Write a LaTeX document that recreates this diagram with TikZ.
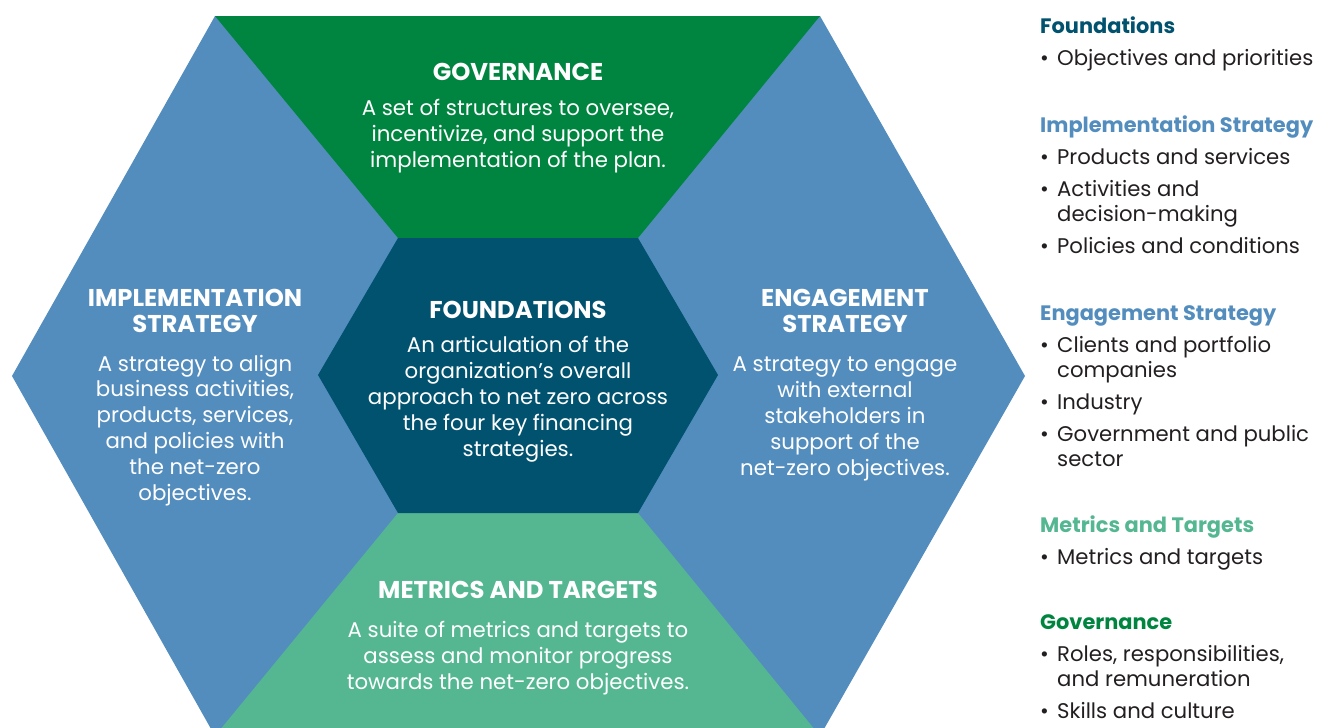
\documentclass[tikz,border=0pt]{standalone}
\usepackage{fontspec}
\setmainfont{Poppins}
\usetikzlibrary{positioning}
\definecolor{hexBlue}{RGB}{83,141,190}
\definecolor{hexTeal}{RGB}{0,82,110}
\definecolor{hexGreen}{RGB}{0,133,64}
\definecolor{hexMint}{RGB}{84,183,146}
\definecolor{listText}{RGB}{35,31,32}
\tikzset{
    head/.style={font=\fontsize{24.3}{26}\selectfont\bfseries, text=white, align=center, inner sep=0pt, anchor=base},
    body/.style={font=\fontsize{21.3}{25.8}\selectfont, text=white, align=center, inner sep=0pt, anchor=base},
    listblock/.style={font=\fontsize{21.2}{25}\selectfont, text=listText, align=left, inner sep=0pt, anchor=base west}
}
\newcommand{\itm}[1]{\makebox[17pt][l]{•}#1}
\newcommand{\cont}[1]{\hspace*{17pt}#1}
\newcommand{\keyhead}[2]{{\fontsize{20.9}{25}\selectfont\bfseries\color{#1}#2}}
\begin{document}
\begin{tikzpicture}[x=1pt, y=-1pt]
    \useasboundingbox (0,0) rectangle (1317,728);
    \clip (0,0) rectangle (1317,728);

    % Corners of the outer and the inner hexagon
    \coordinate (oL) at (12,376);   \coordinate (oR) at (1025,376);
    \coordinate (oTL) at (215,16);  \coordinate (oTR) at (820,16);
    \coordinate (oBL) at (215,736); \coordinate (oBR) at (820,736);
    \coordinate (iL) at (318,375);  \coordinate (iR) at (718,375);
    \coordinate (iTL) at (398,238); \coordinate (iTR) at (638,238);
    \coordinate (iBL) at (398,513); \coordinate (iBR) at (638,513);

    % The strategies, then governance, metrics and the core
    \fill[hexBlue] (oL) -- (oTL) -- (oTR) -- (oR) -- (oBR) -- (oBL) -- cycle;
    \fill[hexGreen] (oTL) -- (oTR) -- (iTR) -- (iTL) -- cycle;
    \fill[hexMint] (iBL) -- (iBR) -- (oBR) -- (oBL) -- cycle;
    \fill[hexTeal] (iL) -- (iTL) -- (iTR) -- (iR) -- (iBR) -- (iBL) -- cycle;

    % Texts inside the hexagon (placed at the baseline of their last line)
    \node[head] (govHead) at (518,80) {GOVERNANCE};
    \node[body] (govBody) at (518,167) {A set of structures to oversee,\\incentivize, and support the\\implementation of the plan.};
    \node[head] (fndHead) at (518,318) {FOUNDATIONS};
    \node[body] (fndBody) at (518,456) {An articulation of the\\organization’s overall\\approach to net zero across\\the four key financing\\strategies.};
    \node[head] (impHead) at (195,332) {IMPLEMENTATION\\STRATEGY};
    \node[body] (impBody) at (195,500) {A strategy to align\\business activities,\\products, services,\\and policies with\\the net-zero\\objectives.};
    \node[head] (engHead) at (845,332) {ENGAGEMENT\\STRATEGY};
    \node[body] (engBody) at (845,475) {A strategy to engage\\with external\\stakeholders in\\support of the\\net-zero objectives.};
    \node[head] (metHead) at (518,598) {METRICS AND TARGETS};
    \node[body] (metBody) at (518,689) {A suite of metrics and targets to\\assess and monitor progress\\towards the net-zero objectives.};

    % Key on the right
    \node[listblock] (fndList) at (1040,65) {\keyhead{hexTeal}{Foundations}\\[7pt]
        \itm{Objectives and priorities}};
    \node[listblock] (impList) at (1040,253) {\keyhead{hexBlue}{Implementation Strategy}\\[7pt]
        \itm{Products and services}\\[7pt]
        \itm{Activities and}\\\cont{decision-making}\\[7pt]
        \itm{Policies and conditions}};
    \node[listblock] (engList) at (1040,466) {\keyhead{hexBlue}{Engagement Strategy}\\[7pt]
        \itm{Clients and portfolio}\\\cont{companies}\\[7pt]
        \itm{Industry}\\[7pt]
        \itm{Government and public}\\\cont{sector}};
    \node[listblock] (metList) at (1040,564) {\keyhead{hexMint}{Metrics and Targets}\\[7pt]
        \itm{Metrics and targets}};
    \node[listblock] (govList) at (1040,718) {\keyhead{hexGreen}{Governance}\\[7pt]
        \itm{Roles, responsibilities,}\\\cont{and remuneration}\\[7pt]
        \itm{Skills and culture}};
\end{tikzpicture}
\end{document}
